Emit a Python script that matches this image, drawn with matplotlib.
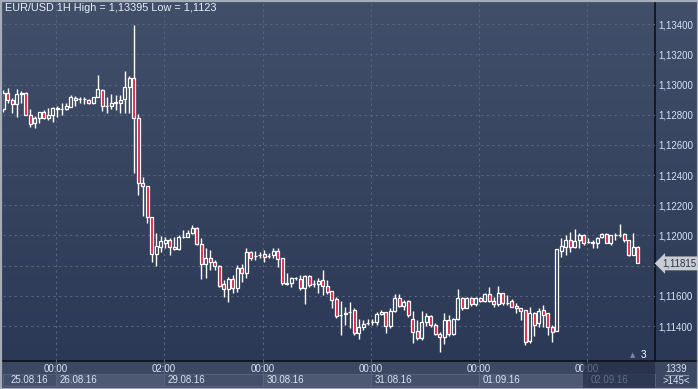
import numpy as np
import matplotlib
matplotlib.use("Agg")
import matplotlib.pyplot as plt
import matplotlib.transforms as mtrans
from matplotlib.patches import Rectangle
from matplotlib.colors import LinearSegmentedColormap
from matplotlib.ticker import FuncFormatter

# EUR/USD hourly candles, 25.08.16 - 02.09.16
open_ = [1.12838, 1.12944, 1.12898, 1.12871, 1.12937, 1.12944, 1.12799, 1.12745, 1.12779, 1.12819,
         1.12779, 1.12799, 1.12845, 1.12838, 1.12838, 1.12852, 1.12898, 1.12904, 1.12906, 1.12898,
         1.12878, 1.12918, 1.12964, 1.12858, 1.12858, 1.12878, 1.12878, 1.12904, 1.12985, 1.13044,
         1.12779, 1.12348, 1.12328, 1.12123, 1.11877, 1.11924, 1.11950, 1.11970, 1.11924, 1.11910,
         1.11990, 1.11988, 1.12016, 1.12049, 1.11943, 1.11811, 1.11851, 1.11824, 1.11797, 1.11678,
         1.11645, 1.11711, 1.11652, 1.11784, 1.11751, 1.11891, 1.11864, 1.11871, 1.11877, 1.11864,
         1.11871, 1.11897, 1.11851, 1.11685, 1.11685, 1.11718, 1.11711, 1.11652, 1.11731, 1.11678,
         1.11678, 1.11705, 1.11665, 1.11632, 1.11579, 1.11473, 1.11479, 1.11493, 1.11506, 1.11353,
         1.11393, 1.11419, 1.11426, 1.11426, 1.11479, 1.11493, 1.11399, 1.11499, 1.11585, 1.11532,
         1.11565, 1.11446, 1.11366, 1.11320, 1.11426, 1.11466, 1.11406, 1.11346, 1.11326, 1.11439,
         1.11346, 1.11446, 1.11585, 1.11519, 1.11585, 1.11546, 1.11585, 1.11565, 1.11612, 1.11565,
         1.11546, 1.11618, 1.11552, 1.11565, 1.11532, 1.11519, 1.11506, 1.11300, 1.11486, 1.11419,
         1.11506, 1.11486, 1.11393, 1.11366, 1.11897, 1.11924, 1.11970, 1.11924, 1.11970, 1.12003,
         1.11957, 1.11957, 1.11950, 1.11990, 1.12010, 1.11950, 1.12003, 1.12003, 1.12010, 1.11970,
         1.11871, 1.11924]
high = [1.12964, 1.12978, 1.12911, 1.12971, 1.12957, 1.12951, 1.12838, 1.12792, 1.12819, 1.12832,
        1.12845, 1.12852, 1.12858, 1.12878, 1.12878, 1.12931, 1.12924, 1.12918, 1.12918, 1.12904,
        1.12918, 1.13064, 1.12971, 1.12918, 1.12937, 1.12931, 1.12931, 1.13090, 1.13057, 1.13395,
        1.12805, 1.12388, 1.12328, 1.12123, 1.12016, 1.11996, 1.11990, 1.11983, 1.11990, 1.12003,
        1.12036, 1.12036, 1.12069, 1.12056, 1.11983, 1.11917, 1.11904, 1.11837, 1.11804, 1.11705,
        1.11725, 1.11738, 1.11804, 1.11811, 1.11917, 1.11897, 1.11897, 1.11891, 1.11904, 1.11884,
        1.11917, 1.11917, 1.11851, 1.11751, 1.11725, 1.11725, 1.11738, 1.11738, 1.11738, 1.11705,
        1.11718, 1.11771, 1.11705, 1.11632, 1.11592, 1.11565, 1.11526, 1.11559, 1.11519, 1.11446,
        1.11439, 1.11446, 1.11446, 1.11493, 1.11506, 1.11493, 1.11519, 1.11612, 1.11612, 1.11572,
        1.11572, 1.11499, 1.11439, 1.11499, 1.11486, 1.11473, 1.11419, 1.11360, 1.11486, 1.11473,
        1.11453, 1.11645, 1.11592, 1.11592, 1.11592, 1.11592, 1.11592, 1.11618, 1.11659, 1.11592,
        1.11665, 1.11618, 1.11605, 1.11579, 1.11552, 1.11519, 1.11506, 1.11526, 1.11493, 1.11519,
        1.11539, 1.11486, 1.11406, 1.11910, 1.11983, 1.12003, 1.12023, 1.12043, 1.12016, 1.12010,
        1.11983, 1.11970, 1.11990, 1.12016, 1.12016, 1.12003, 1.12016, 1.12076, 1.12016, 1.11970,
        1.12016, 1.11930]
low = [1.12819, 1.12878, 1.12812, 1.12786, 1.12878, 1.12799, 1.12719, 1.12712, 1.12745, 1.12772,
       1.12765, 1.12752, 1.12786, 1.12799, 1.12832, 1.12852, 1.12858, 1.12878, 1.12871, 1.12871,
       1.12871, 1.12918, 1.12825, 1.12812, 1.12838, 1.12832, 1.12812, 1.12812, 1.12812, 1.12414,
       1.12268, 1.12129, 1.12082, 1.11824, 1.11797, 1.11891, 1.11917, 1.11871, 1.11904, 1.11904,
       1.11983, 1.11988, 1.12010, 1.11937, 1.11711, 1.11718, 1.11771, 1.11771, 1.11659, 1.11592,
       1.11559, 1.11618, 1.11625, 1.11692, 1.11718, 1.11837, 1.11837, 1.11851, 1.11824, 1.11851,
       1.11851, 1.11791, 1.11672, 1.11672, 1.11659, 1.11705, 1.11638, 1.11546, 1.11659, 1.11659,
       1.11618, 1.11605, 1.11612, 1.11519, 1.11453, 1.11340, 1.11406, 1.11386, 1.11340, 1.11313,
       1.11373, 1.11406, 1.11406, 1.11406, 1.11473, 1.11353, 1.11386, 1.11493, 1.11526, 1.11506,
       1.11459, 1.11287, 1.11307, 1.11307, 1.11399, 1.11393, 1.11340, 1.11230, 1.11280, 1.11333,
       1.11340, 1.11439, 1.11506, 1.11519, 1.11532, 1.11532, 1.11559, 1.11559, 1.11559, 1.11526,
       1.11532, 1.11539, 1.11539, 1.11526, 1.11486, 1.11439, 1.11273, 1.11287, 1.11333, 1.11393,
       1.11393, 1.11340, 1.11293, 1.11366, 1.11857, 1.11871, 1.11891, 1.11917, 1.11917, 1.11937,
       1.11950, 1.11917, 1.11917, 1.11983, 1.11950, 1.11937, 1.11970, 1.11990, 1.11957, 1.11864,
       1.11871, 1.11817]
close = [1.12944, 1.12898, 1.12871, 1.12937, 1.12944, 1.12799, 1.12738, 1.12779, 1.12819, 1.12779,
         1.12799, 1.12845, 1.12838, 1.12840, 1.12858, 1.12918, 1.12911, 1.12906, 1.12904, 1.12878,
         1.12918, 1.12971, 1.12858, 1.12860, 1.12878, 1.12885, 1.12898, 1.12985, 1.13044, 1.12779,
         1.12348, 1.12328, 1.12123, 1.11877, 1.11930, 1.11963, 1.11970, 1.11924, 1.11910, 1.11990,
         1.11988, 1.12016, 1.12049, 1.11943, 1.11811, 1.11851, 1.11824, 1.11797, 1.11665, 1.11645,
         1.11711, 1.11652, 1.11784, 1.11751, 1.11891, 1.11851, 1.11866, 1.11873, 1.11857, 1.11866,
         1.11897, 1.11844, 1.11685, 1.11678, 1.11718, 1.11716, 1.11652, 1.11731, 1.11672, 1.11680,
         1.11698, 1.11665, 1.11625, 1.11572, 1.11466, 1.11475, 1.11486, 1.11495, 1.11353, 1.11393,
         1.11413, 1.11421, 1.11428, 1.11479, 1.11493, 1.11399, 1.11499, 1.11585, 1.11532, 1.11559,
         1.11473, 1.11360, 1.11320, 1.11426, 1.11466, 1.11406, 1.11346, 1.11326, 1.11439, 1.11346,
         1.11446, 1.11585, 1.11519, 1.11585, 1.11546, 1.11585, 1.11565, 1.11612, 1.11565, 1.11546,
         1.11618, 1.11552, 1.11554, 1.11526, 1.11519, 1.11499, 1.11293, 1.11486, 1.11406, 1.11499,
         1.11473, 1.11393, 1.11360, 1.11910, 1.11930, 1.11970, 1.11924, 1.11963, 1.12003, 1.11950,
         1.11959, 1.11950, 1.11983, 1.12010, 1.11950, 1.12003, 1.12005, 1.12001, 1.11970, 1.11871,
         1.11924, 1.11815]

day_start = [11.7, 35.7, 57.7, 81.7, 105.7, 129.7]
time_labels = ["00:00", "02:00", "00:00", "00:00", "00:00", "00:00"]
date_labels = ["25.08.16", "26.08.16", "29.08.16", "30.08.16", "31.08.16", "01.09.16", "02.09.16"]
price_ticks = [1.114, 1.116, 1.118, 1.120, 1.122, 1.124, 1.126, 1.128, 1.130, 1.132, 1.134]

o = np.array(open_); h = np.array(high); l = np.array(low); c = np.array(close)
x = np.arange(len(c))
up = c >= o
body_lo = np.minimum(o, c)
body_hi = np.maximum(o, c)

red = "#e0173d"
font = "Liberation Sans"
txt = "#d6e2f4"
fs = 7

fig = plt.figure(figsize=(6.98, 3.89), dpi=100)

# background (pixel coordinates)
bg = fig.add_axes([0, 0, 1, 1], zorder=0)
cmap = LinearSegmentedColormap.from_list("bg", ["#424f69", "#2b3956"])
bg.imshow(np.linspace(0, 1, 200).reshape(-1, 1), cmap=cmap, aspect="auto",
          extent=(0, 698, 361, 0), zorder=0)
bg.add_patch(Rectangle((0, 361), 698, 28, color="#3c4862", zorder=1))
bg.plot([655, 655], [0, 361], color="#0b1019", lw=1.2, zorder=5)
bg.plot([0, 698], [361, 361], color="#0b1019", lw=1.2, zorder=5)
bg.add_patch(Rectangle((0.5, 0.5), 697, 388, fill=False, ec="#a6adba", lw=1.6, zorder=6))
bg.text(676.5, 368.5, "1339", ha="center", va="center", fontsize=fs, color=txt, family=font)
bg.plot([665, 688], [375, 375], color="#8a94a6", lw=0.8)
bg.text(676.5, 381.5, ">145<", ha="center", va="center", fontsize=fs, color=txt, family=font)
bg.set_xlim(0, 698)
bg.set_ylim(389, 0)
bg.axis("off")

ax = fig.add_axes([3 / 698, 28 / 389, 652 / 698, 361 / 389], zorder=2)
ax.set_facecolor("none")
ax.set_xlim(-0.07, 144.8)
ax.set_ylim(1.11168, 1.13561)
for s in ax.spines.values():
    s.set_visible(False)

# grid
for p in price_ticks:
    ax.axhline(p, color="#59667f", lw=0.8, ls=(0, (2, 3)), zorder=1)
for d in day_start:
    ax.axvline(d, color="#59667f", lw=0.8, ls=(0, (2, 3)), zorder=1)

# candles
ax.vlines(x, body_hi, h, color="white", lw=1.0, zorder=3)
ax.vlines(x, l, body_lo, color="white", lw=1.0, zorder=3)
ax.bar(x, body_hi - body_lo, bottom=body_lo, width=0.66,
       color=np.where(up, "none", red), edgecolor="white", linewidth=0.9, zorder=4)

last = c[-1]


def fmt_price(v, _):
    # the 1,11800 label sits under the current-price tag
    if abs(v - last) < 0.0004:
        return ""
    return f"{v:.5f}".replace(".", ",")


ax.set_xticks([])
ax.yaxis.tick_right()
ax.set_yticks(price_ticks)
ax.yaxis.set_major_formatter(FuncFormatter(fmt_price))
ax.tick_params(axis="y", length=0, pad=2.2, labelsize=fs, labelcolor=txt)
for t in ax.get_yticklabels():
    t.set_family(font)

# time axis
tr = mtrans.blended_transform_factory(ax.transData, ax.transAxes)
edges = [ax.get_xlim()[0]] + day_start + [ax.get_xlim()[1]]
box_cols = ["#44506a", "#4d5973"]
for k, lab in enumerate(date_labels):
    ax.add_patch(Rectangle((edges[k], -0.0693), edges[k + 1] - edges[k], 0.0333,
                           transform=tr, clip_on=False, fc=box_cols[k % 2],
                           ec="#5a6680", lw=0.6, zorder=1))
    xt = edges[k] + (1.7 if k == 0 else 0.9)
    ax.text(xt, -0.0526, lab, transform=tr, ha="left", va="center",
            fontsize=fs, color=txt, family=font, clip_on=False)
for d, lab in zip(day_start, time_labels):
    ax.plot([d, d], [0, -0.036], transform=tr, color="#59667f", lw=0.6, clip_on=False)
    ax.text(d, -0.0208, lab, transform=tr, ha="center", va="center",
            fontsize=fs, color=txt, family=font, clip_on=False)
ax.add_patch(Rectangle((128.8, -0.074), ax.get_xlim()[1] - 128.8, 0.072, transform=tr,
                       clip_on=False, fc="#1e2840", alpha=0.62, ec="none", zorder=6))

# title
ax.text(0.003, 0.978, "EUR/USD 1H High = 1,13395 Low = 1,1123", transform=ax.transAxes,
        ha="left", va="center", fontsize=7.8, color="#e8eef8", family=font)

# bar count marker
ax.text(0.966, 0.017, "\u25b2", transform=ax.transAxes, ha="center", va="center",
        fontsize=5, color="#7c869a")
ax.text(0.982, 0.017, "3", transform=ax.transAxes, ha="center", va="center",
        fontsize=7.2, color="white", family=font)

# current price tag
trp = mtrans.blended_transform_factory(ax.transAxes, ax.transData)
ax.text(1.011, last, f"{last:.5f}".replace(".", ","), transform=trp, ha="left",
        va="center", fontsize=fs, color="#2a3244", family=font, clip_on=False,
        bbox=dict(boxstyle="larrow,pad=0.2", fc="#c9cdd3", ec="none"), zorder=7)

fig.savefig("out.png", dpi=100)
